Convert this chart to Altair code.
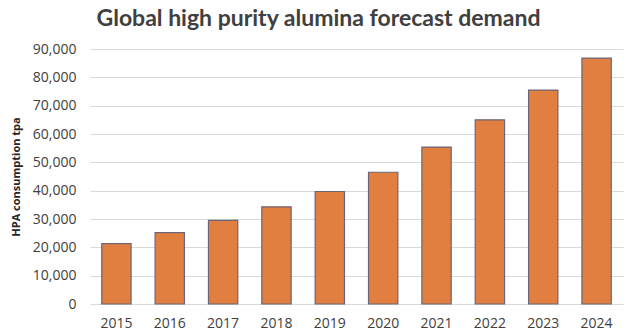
import altair as alt
import pandas as pd

years = ["2015", "2016", "2017", "2018", "2019", "2020", "2021", "2022", "2023", "2024"]
demand = [21300, 25200, 29500, 34300, 39700, 46500, 55400, 65000, 75500, 86800]

df = pd.DataFrame({"year": years, "demand": demand})

chart = alt.Chart(df).mark_bar(
    color="#E07F3F", stroke="#6E6477", strokeWidth=1.2
).encode(
    x=alt.X("year:N", title=None, sort=years,
            scale=alt.Scale(paddingInner=0.45, paddingOuter=0.22),
            axis=alt.Axis(labelAngle=0, labelFont="Open Sans", labelFontSize=14,
                          labelColor="#404040", ticks=False, domain=False,
                          labelPadding=12)),
    y=alt.Y("demand:Q", title="HPA consumption tpa",
            scale=alt.Scale(domain=[0, 90000], nice=False),
            axis=alt.Axis(values=list(range(0, 90001, 10000)), format=",.0f",
                          labelFont="Open Sans", labelFontSize=14, labelColor="#404040",
                          ticks=False, domain=False, labelPadding=14,
                          gridColor="#D9D9D9", titleFont="Open Sans", titleFontSize=11,
                          titleFontWeight="bold", titleColor="#262626", titlePadding=11)),
).properties(
    width=533, height=255,
    title=alt.TitleParams("Global high purity alumina forecast demand",
                          font="Lato", fontSize=23, fontWeight="bold",
                          color="#404040", anchor="middle", dx=-38, offset=11),
    autosize=alt.AutoSizeParams(type="none"),
    padding={"left": 90, "top": 49, "right": 17, "bottom": 32},
).configure_view(stroke=None)

chart.save("out.html", embed_options={"renderer": "svg", "actions": False})
